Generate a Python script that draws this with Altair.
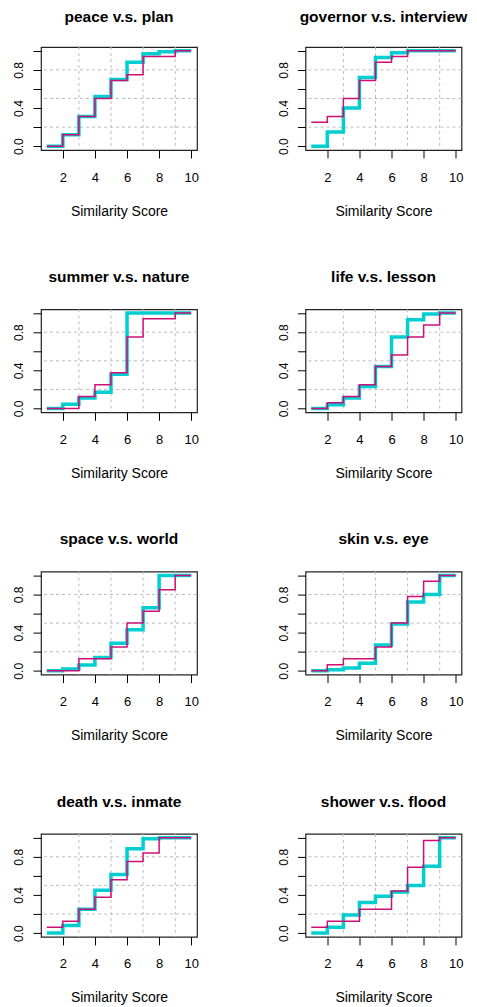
import altair as alt
import pandas as pd

# ---------------- data ----------------
scores = [1, 2, 3, 4, 5, 6, 7, 8, 9, 10]

titles = [
    "peace v.s. plan", "governor v.s. interview",
    "summer v.s. nature", "life v.s. lesson",
    "space v.s. world", "skin v.s. eye",
    "death v.s. inmate", "shower v.s. flood",
]

peace_plan_cyan = [0, 0.12, 0.31, 0.52, 0.70, 0.88, 0.97, 0.99, 1.0, 1.0]
peace_plan_magenta = [0, 0.12, 0.31, 0.50, 0.69, 0.75, 0.94, 0.94, 1.0, 1.0]

governor_interview_cyan = [0, 0.15, 0.40, 0.72, 0.93, 0.98, 1.0, 1.0, 1.0, 1.0]
governor_interview_magenta = [0.25, 0.31, 0.50, 0.69, 0.88, 0.94, 1.0, 1.0, 1.0, 1.0]

summer_nature_cyan = [0, 0.045, 0.11, 0.17, 0.36, 1.0, 1.0, 1.0, 1.0, 1.0]
summer_nature_magenta = [0, 0, 0.125, 0.25, 0.375, 0.75, 0.94, 0.94, 1.0, 1.0]

life_lesson_cyan = [0, 0.04, 0.11, 0.23, 0.44, 0.75, 0.93, 0.99, 1.0, 1.0]
life_lesson_magenta = [0, 0.06, 0.125, 0.25, 0.44, 0.56, 0.75, 0.875, 1.0, 1.0]

space_world_cyan = [0, 0.02, 0.06, 0.14, 0.29, 0.43, 0.66, 1.0, 1.0, 1.0]
space_world_magenta = [0, 0, 0.125, 0.125, 0.25, 0.5, 0.625, 0.85, 1.0, 1.0]

skin_eye_cyan = [0, 0.01, 0.03, 0.08, 0.27, 0.49, 0.72, 0.80, 1.0, 1.0]
skin_eye_magenta = [0, 0.0625, 0.125, 0.125, 0.25, 0.5, 0.78, 0.94, 1.0, 1.0]

death_inmate_cyan = [0, 0.08, 0.25, 0.45, 0.615, 0.885, 0.99, 1.0, 1.0, 1.0]
death_inmate_magenta = [0.0625, 0.125, 0.25, 0.375, 0.56, 0.75, 0.84, 1.0, 1.0, 1.0]

shower_flood_cyan = [0, 0.0625, 0.19, 0.32, 0.385, 0.43, 0.5, 0.70, 1.0, 1.0]
shower_flood_magenta = [0.0625, 0.125, 0.125, 0.25, 0.25, 0.44, 0.69, 0.97, 1.0, 1.0]

cyan_series = [peace_plan_cyan, governor_interview_cyan, summer_nature_cyan, life_lesson_cyan,
               space_world_cyan, skin_eye_cyan, death_inmate_cyan, shower_flood_cyan]
magenta_series = [peace_plan_magenta, governor_interview_magenta, summer_nature_magenta,
                  life_lesson_magenta, space_world_magenta, skin_eye_magenta,
                  death_inmate_magenta, shower_flood_magenta]

x_ticks = [2, 4, 6, 8, 10]
y_ticks = [0, 0.2, 0.4, 0.6, 0.8, 1.0]
y_labels_shown = ["0.0", "0.4", "0.8"]
grid_x = [3, 5, 7, 9]
grid_y = [0.2, 0.5, 0.8]

CYAN = "#00CED1"
MAGENTA = "#CD1076"
FONT = "Liberation Sans"

x_scale = alt.Scale(domain=[0.64, 10.36], nice=False, zero=False)
y_scale = alt.Scale(domain=[-0.04, 1.04], nice=False, zero=False)

label_expr = ("indexof(['" + "','".join(y_labels_shown) +
              "'], format(datum.value, '.1f')) >= 0 ? format(datum.value, '.1f') : ''")

x_axis = alt.Axis(values=x_ticks, format="d", title="Similarity Score", grid=False,
                  domain=False, tickSize=8, tickColor="black", labelPadding=13,
                  labelFontSize=13, labelFont=FONT, labelColor="black",
                  labelFlush=False, labelOverlap=False,
                  titleFont=FONT, titleFontSize=14, titleFontWeight="normal",
                  titleColor="black", titleY=65, titleBaseline="alphabetic")
y_axis = alt.Axis(values=y_ticks, labelExpr=label_expr, title=None, grid=False,
                  domain=False, tickSize=8, tickColor="black", labelPadding=14.5,
                  labelAngle=270, labelAlign="center", labelBaseline="middle",
                  labelFontSize=12, labelFont=FONT, labelColor="black",
                  labelFlush=False, labelOverlap=False)


def panel(title, cyan, magenta, title_offset):
    dc = pd.DataFrame({"score": scores, "value": cyan})
    dm = pd.DataFrame({"score": scores, "value": magenta})
    gx = pd.DataFrame({"g": grid_x})
    gy = pd.DataFrame({"g": grid_y})
    x_enc = alt.X("score:Q", scale=x_scale, axis=x_axis)
    y_enc = alt.Y("value:Q", scale=y_scale, axis=y_axis)
    line_c = alt.Chart(dc).mark_line(interpolate="step-after", color=CYAN, strokeWidth=3.5).encode(
        x=x_enc, y=y_enc)
    line_m = alt.Chart(dm).mark_line(interpolate="step-after", color=MAGENTA, strokeWidth=1.5).encode(
        x=x_enc, y=y_enc)
    vgrid = alt.Chart(gx).mark_rule(color="#bdbdbd", strokeDash=[3, 3], strokeWidth=1).encode(
        x=alt.X("g:Q", scale=x_scale, axis=x_axis, title="Similarity Score")
    )
    hgrid = alt.Chart(gy).mark_rule(color="#bdbdbd", strokeDash=[3, 3], strokeWidth=1).encode(
        y=alt.Y("g:Q", scale=y_scale, axis=y_axis, title=None)
    )
    return alt.layer(vgrid, hgrid, line_c, line_m).properties(
        width=156, height=103,
        title=alt.TitleParams(text=title, fontSize=15.5, fontWeight="bold", font=FONT,
                              anchor="middle", frame="group", baseline="alphabetic",
                              offset=title_offset, color="black"),
    )


panels = [panel(t, c, m, 6.8 if i < 2 else 8.5)
          for i, (t, c, m) in enumerate(zip(titles, cyan_series, magenta_series))]

chart = alt.concat(
    *panels, columns=2,
    spacing=alt.RowColnumber(row=159.3, column=108.5),
    bounds="flush",
).properties(
    padding={"left": 3, "top": 0, "right": 0, "bottom": 0},
    background="white",
).configure_view(stroke="#222222", strokeWidth=1.2)

chart.save("out.html", embed_options={"renderer": "svg", "actions": False})
